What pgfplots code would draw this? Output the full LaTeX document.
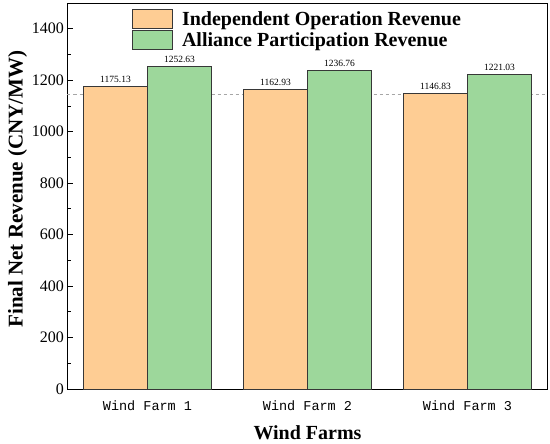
\documentclass[border=0pt]{standalone}
\usepackage{fontspec}
\setmainfont{Liberation Serif}
\newfontfamily\monofont{Liberation Mono}
\usepackage{pgfplots}
\pgfplotsset{compat=1.18}
\definecolor{oran}{RGB}{254,205,148}
\definecolor{gree}{RGB}{157,215,155}
\definecolor{edge}{RGB}{55,55,55}
\begin{document}
\begin{tikzpicture}
\begin{axis}[
  scale only axis,
  width=480pt, height=386pt,
  xmin=0.5, xmax=3.5, ymin=0, ymax=1500,
  ybar,
  axis line style={black, line width=1pt},
  tick pos=left,
  tick align=inside,
  ytick={0,200,...,1400},
  minor ytick={100,300,...,1500},
  major tick length=5pt, minor tick length=3pt,
  tick style={black, line width=0.8pt},
  xtick={1,2,3},
  xticklabels={Wind Farm 1, Wind Farm 2, Wind Farm 3},
  x tick label style={font=\monofont\fontsize{13.5}{14}\selectfont, yshift=-8pt},
  xtick style={draw=none},
  extra x ticks={1.5,2.5},
  extra x tick labels={},
  extra x tick style={tick style={black, line width=0.8pt}, major tick length=4pt},
  y tick label style={font=\fontsize{16}{17}\selectfont, /pgf/number format/1000 sep={}},
  /pgf/number format/assume math mode=true,
  xlabel={\textbf{Wind Farms}},
  ylabel={\textbf{Final Net Revenue (CNY/MW)}},
  xlabel style={font=\fontsize{20}{22}\selectfont, yshift=-8pt},
  ylabel style={font=\fontsize{21}{23}\selectfont, yshift=-2pt, xshift=7pt},
  legend style={draw=none, fill=none, at={(rel axis cs:0.128,0.99)}, anchor=north west,
    font=\bfseries\fontsize{20}{22}\selectfont, row sep=1pt,
    /tikz/every odd column/.append style={column sep=7pt}},
  legend cell align=left,
  legend image code/.code={\draw[#1] (0pt,-9.5pt) rectangle (40pt,9.5pt);},
  nodes near coords,
  nodes near coords style={font=\fontsize{9.5}{10}\selectfont, /pgf/number format/.cd, fixed, fixed zerofill, precision=2, 1000 sep={}, assume math mode=true},
  clip=false,
]
\addplot[sharp plot, gray!70, dashed, line width=0.6pt, forget plot, nodes near coords={}] coordinates {(0.5,1146.83) (3.5,1146.83)};
\addplot[bar width=0.4, bar shift=-0.2, fill=oran, draw=edge, line width=0.9pt] coordinates {(1,1175.13) (2,1162.93) (3,1146.83)};
\addplot[bar width=0.4, bar shift=0.2, fill=gree, draw=edge, line width=0.9pt] coordinates {(1,1252.63) (2,1236.76) (3,1221.03)};
\legend{Independent Operation Revenue, Alliance Participation Revenue}
\coordinate (bl) at (rel axis cs:0,0);
\coordinate (tr) at (rel axis cs:1,1);
\end{axis}
\pgfresetboundingbox
\path ([shift={(-67.5pt,-54pt)}]bl) rectangle ([shift={(2.5pt,3pt)}]tr);
\end{tikzpicture}
\end{document}
